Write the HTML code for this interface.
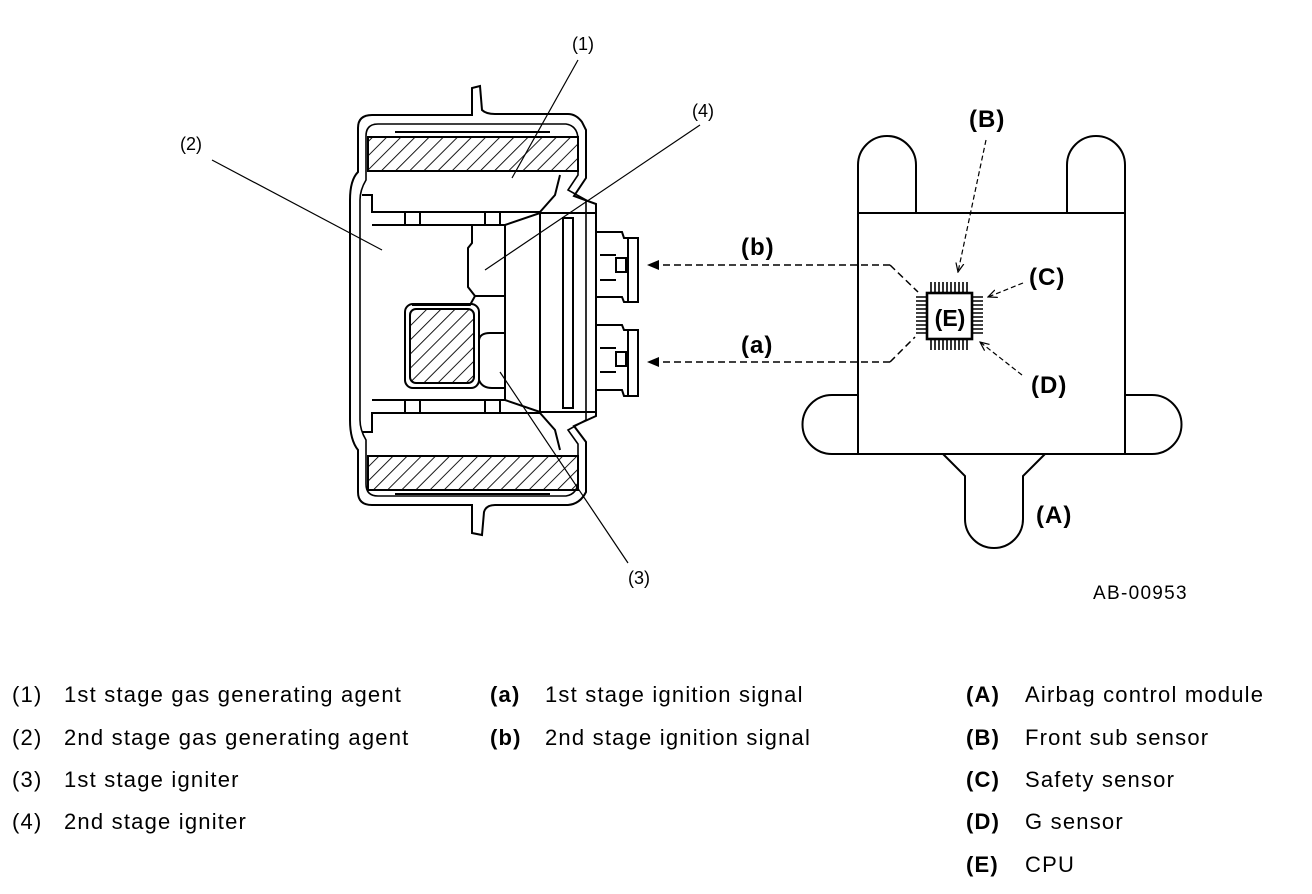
<!DOCTYPE html>
<html><head><meta charset="utf-8"><style>
html,body{margin:0;padding:0;background:#fff;}
svg{display:block;}
text{font-family:"Liberation Sans",Arial,sans-serif;fill:#000;}
</style></head><body>
<svg width="1312" height="894" viewBox="0 0 1312 894" xmlns="http://www.w3.org/2000/svg">
<defs>
<pattern id="h" width="10" height="10" patternUnits="userSpaceOnUse" patternTransform="rotate(45)">
<line x1="0" y1="0" x2="0" y2="10" stroke="#000" stroke-width="1.8"/>
</pattern>
<marker id="ar" markerWidth="12" markerHeight="10" refX="11" refY="5" orient="auto" markerUnits="userSpaceOnUse">
<path d="M0,0 L12,5 L0,10 z" fill="#000"/></marker>
<marker id="sa" markerWidth="10" markerHeight="10" refX="9" refY="5" orient="auto" markerUnits="userSpaceOnUse">
<path d="M0,1 L9,5 L0,9" fill="none" stroke="#000" stroke-width="1.2"/></marker>
</defs>
<g fill="none" stroke="#000" stroke-width="2">
<path d="M372,115 L472,115 L472,88 L480,86 L482,110 Q486,114 495,114 L568,114 Q576,114 582,122 L586,130 L586,178 L574,196 L596,204 L596,416 L574,426 L586,442 L586,492 Q580,504 568,505 L495,505 Q486,505 484,512 L482,535 L472,533 L472,505 L372,505 Q358,505 358,492 L358,450 Q350,440 350,420 L350,200 Q350,180 358,172 L358,128 Q358,115 372,115 Z"/>
<path d="M378,124 L566,124 Q578,126 578,140 L578,175 L568,190 L586,200 L586,420 L568,430 L578,444 L578,480 Q578,494 566,496 L378,496 Q366,496 366,484 L366,440 Q360,430 360,420 L360,200 Q360,190 366,180 L366,136 Q366,124 378,124 Z" stroke-width="1.6"/>
<rect x="368" y="137" width="210" height="34" fill="url(#h)"/>
<rect x="368" y="456" width="210" height="34" fill="url(#h)"/>
<line x1="395" y1="132" x2="550" y2="132"/><line x1="395" y1="494" x2="550" y2="494"/>
<path d="M362,195 L372,195 L372,212 L540,212 L555,195 L560,175"/>
<path d="M362,432 L372,432 L372,413 L540,413 L555,430 L560,450"/>
<line x1="405" y1="212" x2="405" y2="225"/><line x1="420" y1="212" x2="420" y2="225"/>
<line x1="485" y1="212" x2="485" y2="225"/><line x1="500" y1="212" x2="500" y2="225"/>
<line x1="405" y1="400" x2="405" y2="413"/><line x1="420" y1="400" x2="420" y2="413"/>
<line x1="485" y1="400" x2="485" y2="413"/><line x1="500" y1="400" x2="500" y2="413"/>
<line x1="372" y1="225" x2="505" y2="225"/><line x1="372" y1="400" x2="505" y2="400"/>
<path d="M505,225 L540,213 L596,213 L596,412 L540,412 L505,400 Z"/>
<line x1="540" y1="213" x2="540" y2="412"/>
<rect x="563" y="218" width="10" height="190"/>
<path d="M596,232 L622,232 L624,238 L638,238 L638,302 L624,302 L622,297 L596,297"/>
<line x1="628" y1="238" x2="628" y2="302"/><rect x="616" y="258" width="10" height="14"/>
<line x1="600" y1="255" x2="616" y2="255"/><line x1="600" y1="280" x2="616" y2="280"/>
<path d="M596,325 L622,325 L624,330 L638,330 L638,396 L624,396 L622,390 L596,390"/>
<line x1="628" y1="330" x2="628" y2="396"/><rect x="616" y="352" width="10" height="14"/>
<line x1="600" y1="348" x2="616" y2="348"/><line x1="600" y1="372" x2="616" y2="372"/>
<path d="M472,225 L472,243 L468,248 L468,287 L475,296 L505,296"/>
<path d="M475,296 L470,305 L412,305"/>
<rect x="405" y="304" width="74" height="84" rx="8"/>
<rect x="410" y="309" width="64" height="74" rx="6" fill="url(#h)"/>
<path d="M479,340 Q480,333 490,333 L505,333 M479,380 Q482,388 492,388 L505,388"/>
</g>
<g stroke="#000" stroke-width="1.2">
<line x1="578" y1="60" x2="512" y2="178"/>
<line x1="212" y1="160" x2="382" y2="250"/>
<line x1="700" y1="125" x2="485" y2="270"/>
<line x1="628" y1="563" x2="500" y2="372"/>
</g>
<g font-size="18">
<text x="572" y="50">(1)</text>
<text x="180" y="150">(2)</text>
<text x="692" y="117">(4)</text>
<text x="628" y="584">(3)</text>
</g>
<g fill="none" stroke="#000" stroke-width="2">
<path d="M858,213 L858,165 A29,29 0 0 1 916,165 L916,213"/>
<path d="M1067,213 L1067,165 A29,29 0 0 1 1125,165 L1125,213"/>
<rect x="858" y="213" width="267" height="241"/>
<path d="M858,395 L832,395 A29.5,29.5 0 0 0 832,454 L858,454"/>
<path d="M1125,395 L1152,395 A29.5,29.5 0 0 1 1152,454 L1125,454"/>
<path d="M943,454 L965,476 L965,519 A29,29 0 0 0 1023,519 L1023,476 L1045,454"/>
<rect x="927" y="293" width="45" height="46" stroke-width="2.6"/>
</g>
<g stroke="#000" stroke-width="1.6">
<path d="M931,282V293M935,282V293M939,282V293M943,282V293M947,282V293M951,282V293M955,282V293M959,282V293M963,282V293M967,282V293"/>
<path d="M931,339V350M935,339V350M939,339V350M943,339V350M947,339V350M951,339V350M955,339V350M959,339V350M963,339V350M967,339V350"/>
<path d="M916,297H927M916,301H927M916,305H927M916,309H927M916,313H927M916,317H927M916,321H927M916,325H927M916,329H927M916,333H927"/>
<path d="M972,297H983M972,301H983M972,305H983M972,309H983M972,313H983M972,317H983M972,321H983M972,325H983M972,329H983M972,333H983"/>
</g>
<text x="950" y="326" font-size="23" font-weight="bold" text-anchor="middle">(E)</text>
<g fill="none" stroke="#000" stroke-width="1.5" stroke-dasharray="7,4">
<path d="M890,265 L648,265" marker-end="url(#ar)"/>
<path d="M890,265 L918,292"/>
<path d="M890,362 L648,362" marker-end="url(#ar)"/>
<path d="M890,362 L915,337"/>
</g>
<g fill="none" stroke="#000" stroke-width="1.2" stroke-dasharray="5,3">
<path d="M986,140 L958,272" marker-end="url(#sa)"/>
<path d="M1023,283 L988,297" marker-end="url(#sa)"/>
<path d="M1022,375 L980,342" marker-end="url(#sa)"/>
</g>
<g font-size="24" font-weight="bold" letter-spacing="1">
<text x="969" y="127">(B)</text>
<text x="1029" y="285">(C)</text>
<text x="1031" y="393">(D)</text>
<text x="1036" y="523">(A)</text>
<text x="741" y="255">(b)</text>
<text x="741" y="353">(a)</text>
</g>
<text x="1093" y="599" font-size="19" letter-spacing="1.3">AB-00953</text>
<g font-size="22" letter-spacing="1.2">
<text x="12" y="702">(1)</text><text x="64" y="702">1st stage gas generating agent</text>
<text x="12" y="745">(2)</text><text x="64" y="745">2nd stage gas generating agent</text>
<text x="12" y="787">(3)</text><text x="64" y="787">1st stage igniter</text>
<text x="12" y="829">(4)</text><text x="64" y="829">2nd stage igniter</text>
<text x="490" y="702" font-weight="bold">(a)</text><text x="545" y="702">1st stage ignition signal</text>
<text x="490" y="745" font-weight="bold">(b)</text><text x="545" y="745">2nd stage ignition signal</text>
<text x="966" y="702" font-weight="bold">(A)</text><text x="1025" y="702">Airbag control module</text>
<text x="966" y="745" font-weight="bold">(B)</text><text x="1025" y="745">Front sub sensor</text>
<text x="966" y="787" font-weight="bold">(C)</text><text x="1025" y="787">Safety sensor</text>
<text x="966" y="829" font-weight="bold">(D)</text><text x="1025" y="829">G sensor</text>
<text x="966" y="872" font-weight="bold">(E)</text><text x="1025" y="872">CPU</text>
</g>
</svg>
</body></html>
